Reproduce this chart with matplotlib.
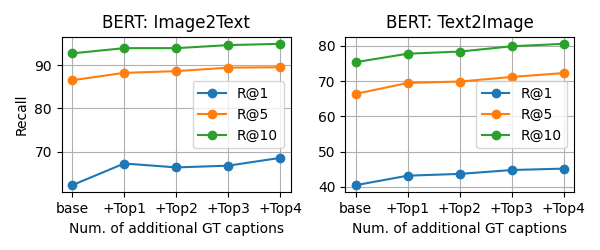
import matplotlib.pyplot as plt

labels = ["base", "+Top1", "+Top2", "+Top3", "+Top4"]

# Image2Text
i2t_r1 = [62.3, 67.3, 66.4, 66.8, 68.6]
i2t_r5 = [86.5, 88.2, 88.6, 89.4, 89.5]
i2t_r10 = [92.7, 93.9, 93.9, 94.6, 94.9]

# Text2Image
t2i_r1 = [40.5, 43.2, 43.7, 44.8, 45.2]
t2i_r5 = [66.4, 69.5, 69.9, 71.2, 72.3]
t2i_r10 = [75.4, 77.8, 78.4, 79.9, 80.6]

fig, axes = plt.subplots(1, 2, figsize=(6, 2.5), dpi=100)

for ax, title, r1, r5, r10 in [
    (axes[0], "BERT: Image2Text", i2t_r1, i2t_r5, i2t_r10),
    (axes[1], "BERT: Text2Image", t2i_r1, t2i_r5, t2i_r10),
]:
    ax.plot(labels, r1, marker="o", label="R@1")
    ax.plot(labels, r5, marker="o", label="R@5")
    ax.plot(labels, r10, marker="o", label="R@10")
    ax.set_title(title)
    ax.set_xlabel("Num. of additional GT captions")
    ax.grid(True)
    ax.legend(loc="center right")

axes[0].set_ylabel("Recall")

plt.subplots_adjust(left=0.103, right=0.957, bottom=0.231, top=0.853, wspace=0.239)
plt.savefig("out.png")
